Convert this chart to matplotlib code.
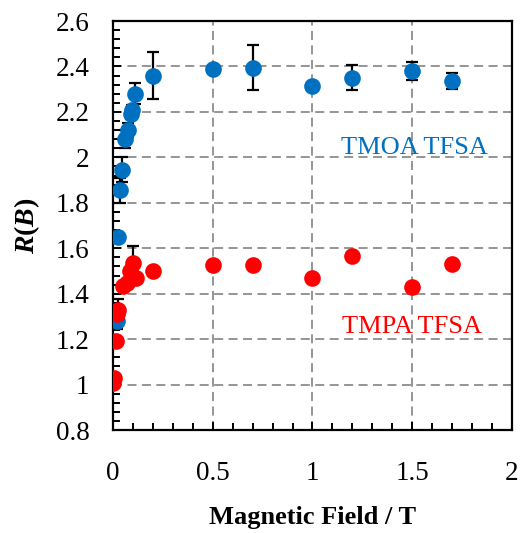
import matplotlib
matplotlib.use("Agg")
from matplotlib import pyplot as plt
from matplotlib.ticker import MultipleLocator

plt.rcParams['font.family'] = ['Liberation Serif', 'DejaVu Serif']
plt.rcParams['mathtext.fontset'] = 'custom'
plt.rcParams['mathtext.bfit'] = 'Liberation Serif:italic:bold'
plt.rcParams['mathtext.rm'] = 'Liberation Serif'

# TMOA TFSA (blue)
tmoa_b = [0.018, 0.027, 0.037, 0.047, 0.06, 0.073, 0.09, 0.093, 0.11, 0.2,
          0.5, 0.7, 1.0, 1.2, 1.5, 1.7]
tmoa_r = [1.28, 1.65, 1.855, 1.945, 2.08, 2.12, 2.19, 2.21, 2.28, 2.36,
          2.39, 2.395, 2.315, 2.35, 2.38, 2.337]
tmoa_err = [0.035, 0.0, 0.055, 0.055, 0.04, 0.03, 0.02, 0.02, 0.045, 0.105,
            0.0, 0.1, 0.012, 0.055, 0.04, 0.035]

# TMPA TFSA (red)
tmpa_b = [0.0, 0.005, 0.015, 0.02, 0.023, 0.05, 0.07, 0.083, 0.1, 0.115,
          0.2, 0.5, 0.7, 1.0, 1.2, 1.5, 1.7]
tmpa_r = [1.005, 1.03, 1.19, 1.31, 1.33, 1.432, 1.447, 1.498, 1.534, 1.469,
          1.498, 1.525, 1.527, 1.467, 1.565, 1.43, 1.53]
tmpa_err = [0.0, 0.0, 0.0, 0.0, 0.045, 0.0, 0.0, 0.0, 0.075, 0.0,
            0.0, 0.0, 0.0, 0.0, 0.012, 0.0, 0.012]

x_ticks = [0, 0.5, 1, 1.5, 2]
x_labels = ['0', '0.5', '1', '1.5', '2']
y_ticks = [0.8, 1.0, 1.2, 1.4, 1.6, 1.8, 2.0, 2.2, 2.4, 2.6]
y_labels = ['0.8', '1', '1.2', '1.4', '1.6', '1.8', '2', '2.2', '2.4', '2.6']

blue = '#0070c0'
red = '#ff0000'

fig = plt.figure(figsize=(5.21, 5.33), dpi=100)
ax = fig.add_axes([0.2169, 0.1932, 0.7658, 0.7674])

for x, y, e, c in [(tmoa_b, tmoa_r, tmoa_err, blue), (tmpa_b, tmpa_r, tmpa_err, red)]:
    ax.errorbar(x, y, yerr=e, fmt='none', ecolor='black', elinewidth=1.6,
                capsize=4.5, capthick=1.6, zorder=3)
    ax.plot(x, y, 'o', color=c, markersize=12, markeredgewidth=0, zorder=4)

ax.text(1.51, 2.04, 'TMOA TFSA', color=blue, fontsize=19, ha='center', va='center')
ax.text(1.5, 1.255, 'TMPA TFSA', color=red, fontsize=19, ha='center', va='center')

ax.set_xlim(0, 2)
ax.set_ylim(0.8, 2.6)
ax.set_xticks(x_ticks)
ax.set_xticklabels(x_labels)
ax.set_yticks(y_ticks)
ax.set_yticklabels(y_labels)
ax.xaxis.set_minor_locator(MultipleLocator(0.1))
ax.yaxis.set_minor_locator(MultipleLocator(0.04))

ax.grid(True, which='major', color='#8c8c8c', linestyle=(0, (5, 3)), linewidth=1.3)
ax.set_axisbelow(True)
for s in ax.spines.values():
    s.set_linewidth(1.6)
ax.tick_params(which='both', direction='in', top=False, right=False,
               width=1.4, labelsize=19.5)
ax.tick_params(which='major', length=6)
ax.tick_params(which='minor', length=5)
ax.tick_params(axis='x', pad=22)
ax.tick_params(axis='y', pad=17)

ax.set_xlabel('Magnetic Field / T', fontsize=19, fontweight='bold', labelpad=15)
ax.set_ylabel(r'$\mathbfit{R}$($\mathbfit{B}$)', fontsize=20, fontweight='bold', labelpad=10)

plt.savefig('out.png', dpi=100)
